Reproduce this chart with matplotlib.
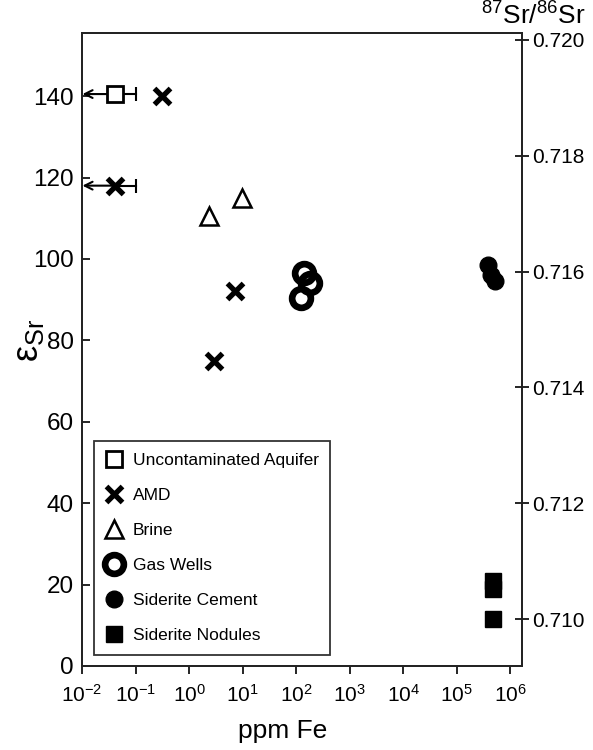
import numpy as np
import matplotlib
matplotlib.use('Agg')
import matplotlib.pyplot as plt
from matplotlib.lines import Line2D
from matplotlib.ticker import NullLocator, FormatStrFormatter

plt.rcParams['font.family'] = ['Liberation Sans', 'DejaVu Sans']
plt.rcParams['mathtext.fontset'] = 'custom'
plt.rcParams['mathtext.rm'] = 'Liberation Sans'
plt.rcParams['mathtext.it'] = 'Liberation Sans:italic'

# Fe concentration (ppm) and eps-Sr for each sample group
aquifer_fe = [0.042]
aquifer_sr = [140.5]
aquifer_fe_hi = [0.1]

amd_fe = [0.31, 0.042, 7.1, 2.9]
amd_sr = [140.0, 118.0, 92.0, 75.0]
amd_fe_hi = [None, 0.1, None, None]

brine_fe = [2.4, 9.8]
brine_sr = [110.5, 115.0]

gas_fe = [138, 178, 121]
gas_sr = [96.5, 94.0, 90.5]

cement_fe = [3.8e5, 4.3e5, 5.2e5]
cement_sr = [98.5, 96.0, 94.7]

nodule_fe = [4.7e5, 4.7e5, 4.7e5]
nodule_sr = [20.9, 18.9, 11.5]

x_min, x_max = 1e-2, 10 ** 6.22

fig = plt.figure(figsize=(5.93, 7.5), dpi=100)
ax = fig.add_axes([0.1383, 0.112, 0.7420, 0.844])

ax.set_xscale('log')
ax.set_xlim(x_min, x_max)
ax.set_ylim(0, 155.5)


def draw_upper_limits(xs, ys, his):
    # values below detection: right-hand error bar plus arrow to the axis
    for x, y, hi in zip(xs, ys, his):
        if hi is None:
            continue
        ax.plot([x, hi], [y, y], color='black', lw=1.5, zorder=2)
        ax.plot([hi], [y], marker='|', ms=10, mew=1.5, color='black', zorder=2)
        ax.annotate('', xy=(x_min * 1.02, y), xytext=(x, y),
                    arrowprops=dict(arrowstyle='->', lw=1.5, color='black',
                                    shrinkA=0, shrinkB=0, mutation_scale=14),
                    zorder=2)


draw_upper_limits(aquifer_fe, aquifer_sr, aquifer_fe_hi)
draw_upper_limits(amd_fe, amd_sr, amd_fe_hi)

sq_style = dict(ls='none', marker='s', ms=12, mfc='white', mec='black', mew=2)
x_style = dict(ls='none', marker='x', ms=11, mec='black', mew=3.8)
tri_style = dict(ls='none', marker='^', ms=13, mfc='white', mec='black', mew=1.8)
ring_style = dict(ls='none', marker='o', ms=13.5, mfc='none', mec='black', mew=4.8)
dot_style = dict(ls='none', marker='o', ms=12, mfc='black', mec='black')
box_style = dict(ls='none', marker='s', ms=12, mfc='black', mec='black')

ax.plot(aquifer_fe, aquifer_sr, zorder=3, **sq_style)
ax.plot(amd_fe, amd_sr, zorder=3, **x_style)
ax.plot(brine_fe, brine_sr, zorder=3, **tri_style)
ax.plot(gas_fe, gas_sr, zorder=3, **ring_style)
ax.plot(cement_fe, cement_sr, zorder=3, **dot_style)
ax.plot(nodule_fe, nodule_sr, zorder=3, **box_style)

# axis styling
ax.set_xticks([10.0 ** k for k in range(-2, 7)])
ax.xaxis.set_minor_locator(NullLocator())
ax.set_yticks(np.arange(0, 141, 20))
ax.tick_params(axis='x', which='major', direction='out', length=6,
               width=1.2, labelsize=15, pad=7, top=False)
ax.tick_params(axis='y', which='major', direction='in', length=6,
               width=1.2, labelsize=17.5, pad=6)
for s in ax.spines.values():
    s.set_linewidth(1.3)
    s.set_color('#222222')

ax.set_xlabel('ppm Fe', fontsize=19)
ax.xaxis.set_label_coords(0.457, -0.084)
ax.set_ylabel(r'$\mathregular{\varepsilon_{Sr}}$', fontsize=26)
ax.yaxis.set_label_coords(-0.082, 0.514)

# right axis: 87Sr/86Sr ratio
ax2 = ax.twinx()
ax2.set_ylim(0.70919, 0.72012)
ax2.set_yticks(np.arange(0.710, 0.7201, 0.002))
ax2.yaxis.set_major_formatter(FormatStrFormatter('%.3f'))
ax2.tick_params(axis='y', direction='inout', length=10, width=1.2,
                labelsize=15, pad=2)
for s in ax2.spines.values():
    s.set_linewidth(1.3)
    s.set_color('#222222')
fig.text(0.988, 0.979, r'$^{87}$Sr/$^{86}$Sr', fontsize=19,
         ha='right', va='center')

handles = [
    Line2D([], [], **sq_style),
    Line2D([], [], **x_style),
    Line2D([], [], **tri_style),
    Line2D([], [], **ring_style),
    Line2D([], [], **dot_style),
    Line2D([], [], **box_style),
]
labels = ['Uncontaminated Aquifer', 'AMD', 'Brine', 'Gas Wells',
          'Siderite Cement', 'Siderite Nodules']
leg = ax.legend(handles, labels, loc='lower left', bbox_to_anchor=(0.027, 0.018),
                fontsize=12.5, frameon=True, fancybox=False, framealpha=1,
                edgecolor='#333333', labelspacing=1.15, handlelength=1.0,
                handletextpad=0.6, borderpad=0.65, borderaxespad=0)
leg.get_frame().set_linewidth(1.3)

fig.savefig('out.png', dpi=100)
